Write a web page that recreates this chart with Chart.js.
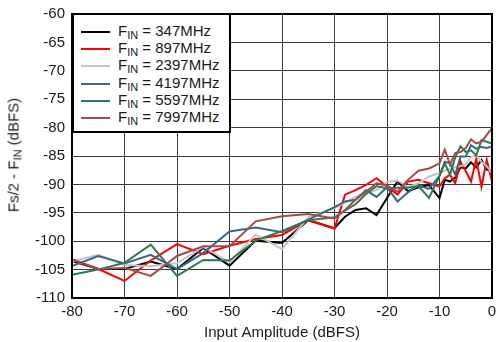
<!DOCTYPE html>
<html>
<head>
<meta charset="utf-8">
<script src="https://cdn.jsdelivr.net/npm/chart.js@4/dist/chart.umd.min.js"></script>
<style>
  html, body { margin: 0; padding: 0; background: #fff; }
  #wrap { position: relative; width: 496px; height: 342px; font-family: 'Liberation Sans', Arial, sans-serif; }
  #chart { position: absolute; left: 0; top: 0; }
  #ytitle {
    position: absolute; left: 13px; top: 155px;
    transform: translate(-50%, -50%) rotate(-90deg);
    white-space: nowrap; font-size: 15px; color: #1a1a1a;
  }
  #legend {
    position: absolute; left: 72px; top: 13px; width: 155px; height: 116px;
    border: 2px solid #000; background: #fff; box-sizing: content-box;
  }
  .row { position: absolute; left: 0; height: 17px; font-size: 15px; color: #1a1a1a; white-space: nowrap; }
  .row .ln { position: absolute; left: 7px; top: 8px; width: 29px; height: 2px; }
  .row .tx { position: absolute; left: 44px; top: -1px; }
  sub { font-size: 11px; vertical-align: -3px; line-height: 0; }
</style>
</head>
<body>
<div id="wrap">
  <canvas id="chart" width="496" height="342"></canvas>
  <div id="ytitle">Fs/2 - F<sub>IN</sub> (dBFS)</div>
  <div id="legend"></div>
</div>
<script>
const inputAmp = [-80, -75, -70, -65, -60, -55, -50, -45, -40, -35, -30, -28, -26, -24, -22, -20, -18, -16, -14, -12, -10, -9, -8, -7, -6, -5, -4, -3, -2, -1, 0];

const fin347 = [-103.5, -104.9, -104.9, -103.6, -104.9, -101.2, -104.3, -99.9, -100.3, -96.3, -97.7, -95.7, -94.5, -94.2, -95.4, -92.4, -89.5, -91.2, -90.5, -90.1, -92.4, -89.2, -89.5, -88.8, -87.0, -87.2, -86.1, -87.0, -85.7, -87.4, -87.5];
const fin897 = [-103.2, -104.9, -107.0, -103.4, -100.5, -102.3, -100.8, -99.6, -98.9, -96.3, -97.8, -91.8, -91.0, -90.1, -88.9, -90.4, -91.8, -89.5, -89.2, -89.8, -90.4, -88.9, -88.3, -89.8, -86.0, -87.7, -89.5, -85.5, -90.4, -85.7, -89.5];
const fin2397 = [-103.6, -102.4, -104.2, -104.4, -103.9, -101.0, -103.7, -98.8, -101.4, -95.8, -94.2, -93.2, -92.2, -91.5, -91.0, -89.6, -89.3, -90.5, -89.8, -88.6, -88.0, -87.6, -87.2, -87.0, -86.8, -86.5, -85.2, -84.9, -86.0, -86.8, -88.0];
const fin4197 = [-104.4, -102.6, -103.9, -102.4, -104.9, -102.1, -98.3, -97.6, -98.4, -96.2, -94.0, -93.0, -92.7, -91.0, -92.2, -90.5, -93.0, -91.4, -90.2, -90.8, -88.5, -86.0, -86.3, -88.3, -85.1, -85.1, -83.1, -83.7, -83.4, -83.6, -83.3];
const fin5597 = [-105.9, -105.0, -103.8, -100.6, -106.1, -103.3, -103.4, -99.9, -98.2, -96.3, -95.8, -94.6, -93.5, -91.7, -90.3, -90.7, -90.6, -90.6, -90.3, -92.4, -88.5, -86.3, -88.3, -85.2, -83.3, -84.3, -84.0, -84.9, -82.2, -82.5, -82.8];
const fin7997 = [-103.2, -104.9, -104.7, -106.1, -102.6, -100.9, -100.9, -96.5, -95.6, -95.2, -96.0, -94.5, -92.7, -91.3, -89.8, -90.2, -91.3, -89.2, -87.6, -87.2, -86.3, -83.9, -86.5, -84.5, -84.3, -83.6, -82.1, -82.8, -82.5, -81.3, -80.1];

const seriesNames = ['347MHz', '897MHz', '2397MHz', '4197MHz', '5597MHz', '7997MHz'];
const seriesValues = [fin347, fin897, fin2397, fin4197, fin5597, fin7997];
const seriesColors = ['#000000', '#ff0000', '#c4c4c4', '#336a88', '#307a50', '#a44a4e'];

const datasets = seriesValues.map((vals, i) => ({
    label: 'FIN = ' + seriesNames[i],
    data: vals.map((v, k) => ({ x: inputAmp[k], y: v })),
    borderColor: seriesColors[i],
    borderWidth: 2,
    pointRadius: 0,
    tension: 0,
    order: seriesValues.length - 1 - i
}));

// legend with subscript
const legend = document.getElementById('legend');
seriesNames.forEach((name, i) => {
    const row = document.createElement('div');
    row.className = 'row';
    row.style.top = (8 + i * 17.2) + 'px';
    row.innerHTML = `<div class="ln" style="background:${seriesColors[i]}"></div><div class="tx">F<sub>IN</sub> = ${name}</div>`;
    legend.appendChild(row);
});

// frame around plot area
const frame = {
    id: 'frame',
    afterDatasetsDraw(chart) {
        const a = chart.chartArea, ctx = chart.ctx;
        ctx.save();
        ctx.strokeStyle = '#000';
        ctx.lineWidth = 2;
        ctx.strokeRect(a.left, a.top, a.right - a.left, a.bottom - a.top);
        ctx.restore();
    }
};

Chart.defaults.font.family = "'Liberation Sans', Arial, sans-serif";
Chart.defaults.font.size = 15;
Chart.defaults.color = '#1a1a1a';

new Chart(document.getElementById('chart').getContext('2d'), {
    type: 'line',
    data: { datasets: datasets },
    options: {
        responsive: false,
        animation: false,
        layout: { padding: { top: 14, right: 4, left: 0, bottom: 0 } },
        plugins: { legend: { display: false }, tooltip: { enabled: false } },
        scales: {
            x: {
                type: 'linear',
                min: -80, max: 0,
                ticks: { stepSize: 10, padding: 5, maxRotation: 0 },
                grid: { color: '#3a3a3a', lineWidth: 1, drawTicks: false },
                border: { display: false },
                title: { display: true, text: 'Input Amplitude (dBFS)', padding: { top: 0, bottom: 0 } },
                afterFit: s => { s.height = 44; s.paddingRight = 0; s.paddingLeft = 0; }
            },
            y: {
                min: -110, max: -60,
                ticks: { stepSize: 5, padding: 7 },
                grid: { color: '#3a3a3a', lineWidth: 1, drawTicks: false },
                border: { display: false },
                afterFit: s => { s.width = 72; s.paddingTop = 0; s.paddingBottom = 0; }
            }
        }
    },
    plugins: [frame]
});
</script>
</body>
</html>
